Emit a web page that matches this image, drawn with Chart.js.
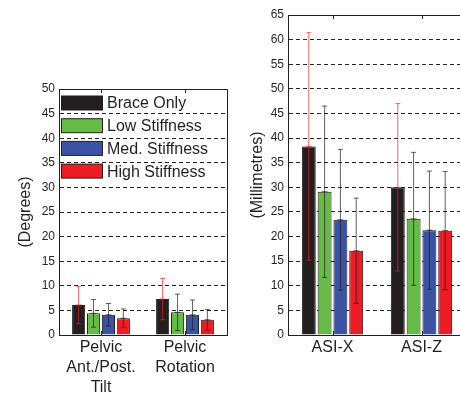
<!DOCTYPE html>
<html>
<head>
<meta charset="utf-8">
<script src="https://cdn.jsdelivr.net/npm/chart.js@4"></script>
<style>
  html, body { margin: 0; padding: 0; background: #fff; overflow: hidden; }
  #wrap { position: relative; width: 460px; height: 394px; overflow: hidden; }
  #pelvis { position: absolute; left: 0; top: 0; }
  #asi { position: absolute; left: 240px; top: 0; }
</style>
</head>
<body>
<div id="wrap">
  <canvas id="pelvis" width="240" height="394"></canvas>
  <canvas id="asi" width="240" height="394"></canvas>
</div>
<script>
/* global Chart */
'use strict';

// ── Data ──────────────────────────────────────────────────────────────
var seriesNames  = [ 'Brace Only', 'Low Stiffness', 'Med. Stiffness', 'High Stiffness' ];
var seriesColors = [ '#231f20', '#66bb46', '#3a53a4', '#ed1c24' ];

var pelvisLabels = [ [ 'Pelvic', 'Ant./Post.', 'Tilt' ], [ 'Pelvic', 'Rotation' ] ];
var pelvisBrace  = [ 6.1, 7.3 ];
var pelvisLow    = [ 4.4, 4.6 ];
var pelvisMed    = [ 4.1, 4.1 ];
var pelvisHigh   = [ 3.4, 3.1 ];
var pelvisBraceSd = [ 3.8, 4.2 ];
var pelvisLowSd   = [ 2.8, 3.7 ];
var pelvisMedSd   = [ 2.3, 3.0 ];
var pelvisHighSd  = [ 1.9, 2.1 ];
var pelvisMax = 50;

var asiLabels = [ 'ASI-X', 'ASI-Z' ];
var asiBrace  = [ 38.3, 30.0 ];
var asiLow    = [ 29.1, 23.6 ];
var asiMed    = [ 23.4, 21.3 ];
var asiHigh   = [ 17.1, 21.2 ];
var asiBraceSd = [ 23.1, 17.0 ];
var asiLowSd   = [ 17.4, 13.5 ];
var asiMedSd   = [ 14.3, 12.0 ];
var asiHighSd  = [ 10.7, 12.0 ];
var asiMax = 65;

var tickStep = 5;

var FONT = "'Liberation Sans', Arial, sans-serif";
var INK  = '#231f20';

// ── Plugins ───────────────────────────────────────────────────────────
var errorBars = {
	id : 'errorBars',
	afterDatasetsDraw : function ( chart ) {
		var ctx = chart.ctx;
		var y = chart.scales.y;
		chart.data.datasets.forEach( function ( ds, i ) {
			var meta = chart.getDatasetMeta( i );
			meta.data.forEach( function ( bar, j ) {
				var m = ds.data[ j ], sd = ds.sd[ j ];
				var top = y.getPixelForValue( m + sd );
				var bot = y.getPixelForValue( m - sd );
				var mid = y.getPixelForValue( m );
				ctx.save();
				ctx.strokeStyle = i === 0 ? 'rgba(237,28,36,0.7)' : 'rgba(30,30,30,0.7)';
				ctx.lineWidth = 1;
				ctx.beginPath();
				ctx.moveTo( bar.x, top ); ctx.lineTo( bar.x, bot );
				ctx.moveTo( bar.x - 2.5, top ); ctx.lineTo( bar.x + 2.5, top );
				ctx.moveTo( bar.x - 2.5, bot ); ctx.lineTo( bar.x + 2.5, bot );
				ctx.moveTo( bar.x - 3, mid ); ctx.lineTo( bar.x + 3, mid );
				ctx.stroke();
				ctx.restore();
			} );
		} );
	},
};

var frame = {
	id : 'frame',
	afterDraw : function ( chart ) {
		var ctx = chart.ctx, a = chart.chartArea;
		ctx.save();
		ctx.strokeStyle = INK;
		ctx.lineWidth = 1;
		ctx.beginPath();
		ctx.moveTo( a.left, a.top + 0.5 ); ctx.lineTo( a.right + 0.5, a.top + 0.5 );
		ctx.lineTo( a.right + 0.5, a.bottom );
		chart.scales.x.ticks.forEach( function ( t, k ) {
			var px = Math.round( chart.scales.x.getPixelForTick( k ) ) + 0.5;
			ctx.moveTo( px, a.top ); ctx.lineTo( px, a.top + 4 );
			ctx.moveTo( px, a.bottom ); ctx.lineTo( px, a.bottom - 4 );
		} );
		ctx.stroke();
		ctx.restore();
	},
};

var boxLegend = {
	id : 'boxLegend',
	afterDraw : function ( chart ) {
		if ( ! chart.options.plugins.boxLegend.show ) {
			return;
		}
		var ctx = chart.ctx, a = chart.chartArea;
		ctx.save();
		ctx.font = '16px ' + FONT;
		ctx.textBaseline = 'middle';
		chart.data.datasets.forEach( function ( ds, i ) {
			var cy = a.top + 14 + i * 22.7;
			ctx.fillStyle = ds.backgroundColor;
			ctx.fillRect( a.left + 2.5, cy - 7, 41, 14 );
			ctx.strokeStyle = INK;
			ctx.lineWidth = 1;
			ctx.strokeRect( a.left + 2.5, cy - 7, 41, 14 );
			ctx.fillStyle = INK;
			ctx.fillText( ds.label, a.left + 48, cy + 1 );
		} );
		ctx.restore();
	},
};

// ── Builder ──────────────────────────────────────────────────────────
function buildChart( el, labels, means, sds, max, title, yWidth, pad, titlePad, showLegend ) {
	return new Chart( el, {
		type : 'bar',
		data : {
			labels   : labels,
			datasets : means.map( function ( d, i ) {
				return {
					label           : seriesNames[ i ],
					data            : d,
					sd              : sds[ i ],
					backgroundColor : seriesColors[ i ],
					borderColor     : INK,
					borderWidth     : 1,
					categoryPercentage : 0.71,
					barPercentage   : 0.88,
				};
			} ),
		},
		plugins : [ errorBars, frame, boxLegend ],
		options : {
			responsive       : false,
			devicePixelRatio : 1,
			animation        : false,
			layout  : { padding : pad },
			plugins : {
				legend    : { display : false },
				tooltip   : { enabled : false },
				boxLegend : { show : showLegend },
			},
			scales : {
				x : {
					grid   : { display : false, drawTicks : false },
					border : { color : INK, width : 1 },
					ticks  : {
						color : INK, padding : 3, maxRotation : 0,
						font  : { family : FONT, size : 16, lineHeight : 1.25 },
					},
					afterFit : function ( s ) { s.height = 59; },
				},
				y : {
					min : 0, max : max,
					grid : {
						color : '#222', lineWidth : 1, drawTicks : false,
					},
					border : {
						color : INK, width : 1,
						dash  : function ( c ) { return c.tick && c.tick.value === max ? [] : [ 4, 3 ]; },
					},
					ticks : {
						stepSize : tickStep, color : INK, padding : 4,
						font : { family : FONT, size : 12 },
					},
					title : {
						display : true, text : title, color : INK,
						font    : { family : FONT, size : 16 },
						padding : { top : titlePad, bottom : 0 },
					},
					afterFit : function ( s ) { s.width = yWidth; },
				},
			},
		},
	} );
}

buildChart(
	document.getElementById( 'pelvis' ),
	pelvisLabels,
	[ pelvisBrace, pelvisLow, pelvisMed, pelvisHigh ],
	[ pelvisBraceSd, pelvisLowSd, pelvisMedSd, pelvisHighSd ],
	pelvisMax, '(Degrees)', 59,
	{ top : 89, right : 13, bottom : 0, left : 0 }, 16, true
);

buildChart(
	document.getElementById( 'asi' ),
	asiLabels,
	[ asiBrace, asiLow, asiMed, asiHigh ],
	[ asiBraceSd, asiLowSd, asiMedSd, asiHighSd ],
	asiMax, '(Millimetres)', 48,
	{ top : 15, right : 14, bottom : 0, left : 0 }, 8, false
);
</script>
</body>
</html>
